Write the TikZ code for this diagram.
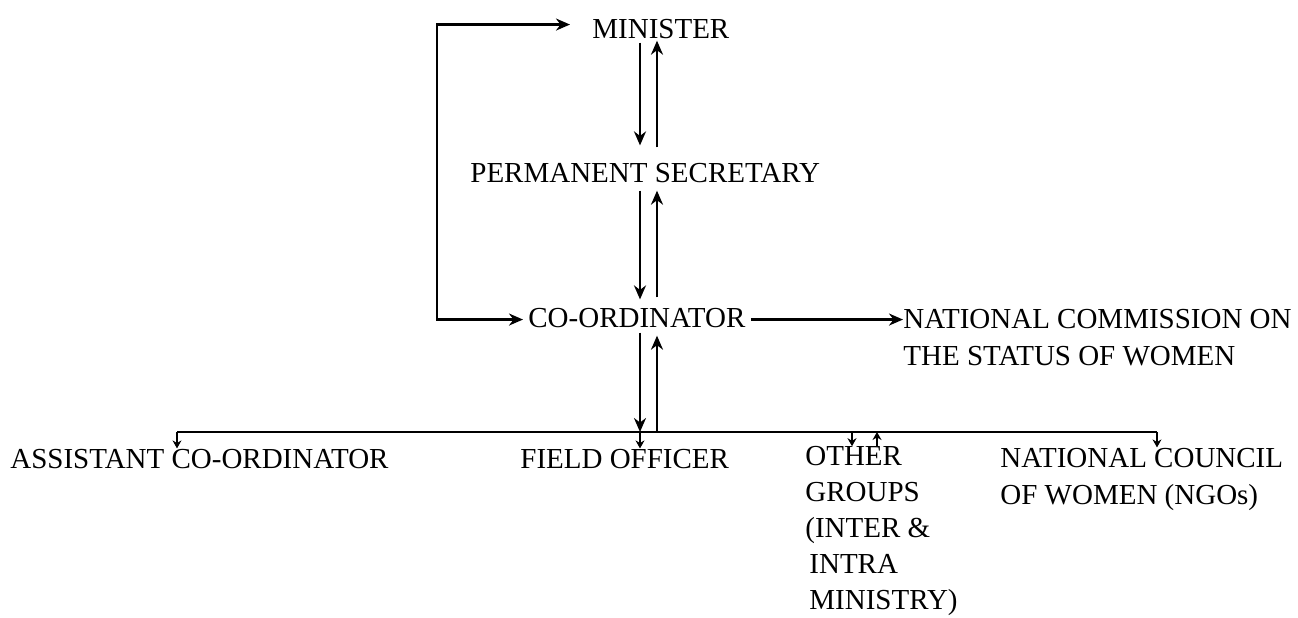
\documentclass[tikz,border=0pt]{standalone}
\usepackage{fontspec}
\setmainfont{Liberation Serif}
\usetikzlibrary{arrows.meta}
\begin{document}
\begin{tikzpicture}[x=0.5pt,y=-0.5pt]
\tikzstyle{arrow} = [line width=1.2pt, ->, >= {Stealth[length=7pt, width=6pt]}]
\tikzstyle{small} = [line width=1pt, ->, >= {Stealth[length=4pt, width=4.5pt]}]
\tikzstyle{office} = [inner sep=0, anchor=base west, align=left, font=\fontsize{14.5}{18.5}\selectfont]
\useasboundingbox (0,0) rectangle (1298,617);
\node[office](minister) at (592,38){MINISTER};
\node[office](permsec) at (470,182){PERMANENT SECRETARY};
\node[office](coord) at (528,327){CO-ORDINATOR};
% multi-line nodes sit on the baseline of their last line
\node[office](natcomm) at (903,365){NATIONAL COMMISSION ON\\THE STATUS OF WOMEN};
\node[office](asst) at (10,468){ASSISTANT CO-ORDINATOR};
\node[office](field) at (520,468){FIELD OFFICER};
\node[office, font=\fontsize{14.5}{17.9}\selectfont](others) at (805,609){OTHER\\GROUPS\\(INTER \&\\\hspace{2pt}INTRA\\\hspace{2pt}MINISTRY)};
\node[office](natcouncil) at (1000,504){NATIONAL COUNCIL\\OF WOMEN (NGOs)};
\coordinate (loop) at (437,170);
\coordinate (dn) at (640,0);
\coordinate (up) at (657,0);
\coordinate (barL) at (177,432);
\coordinate (barR) at (1157,432);
\coordinate (otherdn) at (852,0);
\coordinate (otherup) at (877,0);
\draw[arrow, <->, shorten <=11pt, shorten >=2.5pt] ([yshift=2pt]minister.west) -| (loop) |- ([yshift=-1pt]coord.west);
\draw[arrow, shorten <=2.5pt] ([yshift=-1pt]coord.east) -- ([yshift=-1pt]coord.east -| natcomm.west);
\draw[arrow, shorten <=2pt, shorten >=8.5pt] (minister.south -| dn) -- (permsec.north -| dn);
\draw[arrow, shorten <=7.5pt, shorten >=1pt] (permsec.north -| up) -- (minister.south -| up);
\draw[arrow, shorten <=4pt, shorten >=4pt] (permsec.south -| dn) -- (coord.north -| dn);
\draw[arrow, shorten <=5pt, shorten >=4pt] (coord.north -| up) -- (permsec.south -| up);
\draw[line width=1.2pt] (barL) -- (barR);
\draw[arrow, shorten <=2.5pt] (coord.south -| dn) -- (barL -| dn);
\draw[arrow, shorten >=4pt] (barL -| up) -- (coord.south -| up);
\draw[small] (barL) -- (asst.north -| barL);
\draw[small] (barL -| dn) -- (field.north -| dn);
\draw[small] (barL -| otherdn) -- (others.north -| otherdn);
\draw[small] (others.north -| otherup) -- (barL -| otherup);
\draw[small] (barR) -- (natcouncil.north -| barR);
\end{tikzpicture}
\end{document}
